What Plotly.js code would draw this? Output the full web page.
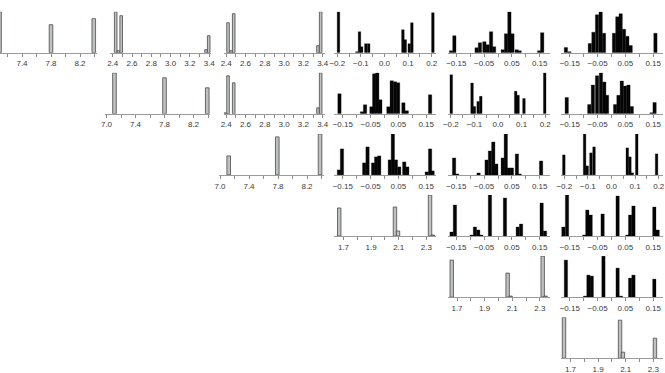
<!DOCTYPE html>
<html>
<head>
<meta charset="utf-8">
<script src="https://cdn.plot.ly/plotly-3.0.1.min.js"></script>
<style>
  html, body { margin: 0; padding: 0; background: #ffffff; overflow: hidden; }
  #chart { width: 665px; height: 373px; }
</style>
</head>
<body>
<div id="chart"></div>
<script>
// ---- Histogram bins (centres) and counts, one pair per panel (row r, column c) ----
// Grey panels: marginal histograms of the three "level" parameters.
const r0c0_bins = [7.09, 7.80, 8.39];
const r0c0_counts = [41, 28, 34];
const r0c1_bins = [2.431, 2.458, 2.488, 3.367, 3.395];
const r0c1_counts = [41, 2, 37, 3, 17];
const r0c2_bins = [2.419, 2.452, 2.478, 3.351, 3.379];
const r0c2_counts = [30, 2, 39, 7, 41];
const r1c1_bins = [7.11, 7.80, 8.39];
const r1c1_counts = [41, 36, 26];
const r1c2_bins = [2.393, 2.419, 2.478, 3.351, 3.379];
const r1c2_counts = [1, 38, 31, 6, 41];
const r2c2_bins = [7.12, 7.79, 8.38];
const r2c2_counts = [19, 38, 41];
const r3c3_bins = [1.669, 2.073, 2.095, 2.327, 2.347];
const r3c3_counts = [28, 29, 5, 41, 1];
const r4c4_bins = [1.662, 2.067, 2.088, 2.321, 2.341];
const r4c4_counts = [37, 24, 1, 41, 1];
const r5c5_bins = [1.653, 2.059, 2.080, 2.312];
const r5c5_counts = [41, 38, 6, 20];

// Black panels: histograms of the coupling coefficients.
const r0c3_bins = [-0.195, -0.117, -0.106, -0.097, -0.079, -0.067, 0.078, 0.088, 0.105, 0.116, 0.205];
const r0c3_counts = [41, 1, 21, 6, 9, 9, 23, 13, 9, 30, 40];
const r0c4_bins = [-0.169, -0.157, -0.077, -0.065, -0.049, -0.037, -0.025, -0.014, 0.017, 0.029, 0.041, 0.052, 0.067, 0.078, 0.148, 0.159];
const r0c4_counts = [2, 17, 5, 10, 11, 8, 21, 6, 3, 19, 41, 19, 3, 2, 2, 20];
const r0c5_bins = [-0.164, -0.151, -0.078, -0.065, -0.052, -0.039, -0.027, 0.009, 0.021, 0.033, 0.045, 0.057, 0.069, 0.158];
const r0c5_counts = [5, 1, 9, 20, 37, 40, 19, 19, 35, 38, 23, 16, 7, 19];
const r1c3_bins = [-0.162, -0.081, -0.070, -0.047, -0.037, -0.026, -0.015, 0.014, 0.026, 0.038, 0.049, 0.068, 0.080, 0.164];
const r1c3_counts = [20, 2, 9, 7, 40, 41, 14, 7, 33, 32, 31, 11, 3, 19];
const r1c4_bins = [-0.198, -0.110, -0.100, -0.084, -0.073, 0.075, 0.085, 0.110, 0.198];
const r1c4_counts = [38, 30, 7, 12, 17, 22, 18, 15, 40];
const r1c5_bins = [-0.161, -0.080, -0.067, -0.052, -0.038, -0.026, -0.016, 0.013, 0.025, 0.037, 0.049, 0.061, 0.073, 0.144, 0.155];
const r1c5_counts = [16, 9, 28, 37, 40, 31, 18, 9, 18, 32, 27, 28, 7, 1, 11];
const r2c3_bins = [-0.164, -0.153, -0.073, -0.061, -0.041, -0.030, -0.019, 0.019, 0.030, 0.041, 0.053, 0.071, 0.082, 0.152, 0.164, 0.173];
const r2c3_counts = [5, 26, 12, 28, 12, 18, 19, 15, 41, 15, 8, 13, 8, 3, 26, 4];
const r2c4_bins = [-0.158, -0.147, -0.070, -0.041, -0.029, -0.017, -0.006, 0.017, 0.028, 0.039, 0.050, 0.068, 0.078, 0.155];
const r2c4_counts = [17, 1, 2, 15, 24, 33, 11, 17, 41, 7, 7, 21, 1, 14];
const r2c5_bins = [-0.202, -0.114, -0.103, -0.087, -0.074, 0.067, 0.078, 0.088, 0.107, 0.191];
const r2c5_counts = [20, 41, 9, 22, 28, 27, 18, 2, 41, 21];
const r3c4_bins = [-0.167, -0.155, -0.095, -0.083, -0.071, -0.060, -0.029, 0.025, 0.071, 0.083, 0.157, 0.169];
const r3c4_counts = [4, 31, 1, 9, 6, 1, 41, 38, 9, 12, 33, 5];
const r3c5_bins = [-0.173, -0.160, -0.098, -0.087, -0.075, -0.032, 0.022, 0.057, 0.067, 0.079, 0.154, 0.166];
const r3c5_counts = [9, 41, 1, 26, 21, 22, 40, 1, 21, 30, 29, 6];
const r4c5_bins = [-0.164, -0.095, -0.083, -0.071, -0.029, 0.022, 0.034, 0.067, 0.079, 0.154];
const r4c5_counts = [37, 1, 22, 21, 41, 29, 1, 19, 22, 18];

// Tick labels for each kind of axis
const ticks_level7 = [7.0, 7.2, 7.4, 7.6, 7.8, 8.0, 8.2, 8.4];
const labels_level7 = ['7.0', '', '7.4', '', '7.8', '', '8.2', ''];
const ticks_level24 = [2.4, 2.5, 2.6, 2.7, 2.8, 2.9, 3.0, 3.1, 3.2, 3.3, 3.4];
const labels_level24 = ['2.4', '', '2.6', '', '2.8', '', '3.0', '', '3.2', '', '3.4'];
const ticks_level17 = [1.7, 1.8, 1.9, 2.0, 2.1, 2.2, 2.3];
const labels_level17 = ['1.7', '', '1.9', '', '2.1', '', '2.3'];
const ticks_coef20 = [-0.2, -0.15, -0.1, -0.05, 0.0, 0.05, 0.1, 0.15, 0.2];
const labels_coef20 = ['\u22120.2', '', '\u22120.1', '', '0.0', '', '0.1', '', '0.2'];
const ticks_coef15 = [-0.15, -0.1, -0.05, 0.0, 0.05, 0.1, 0.15];
const labels_coef15 = ['\u22120.15', '', '\u22120.05', '', '0.05', '', '0.15'];

// ---- Axis kinds: pixel anchor and axis extent (in the 4th-column frame), scale, bar width ----
const KINDS = {
  level7:  { v0: 7.0, p0: 333.5, ppu: 72.5, frame: [332, 437], bw: 0.05,  tv: ticks_level7,  tt: labels_level7,  grey: true },
  level24: { v0: 2.4, p0: 339.7, ppu: 96.5, frame: [337, 438], bw: 0.027, tv: ticks_level24, tt: labels_level24, grey: true },
  level17: { v0: 1.7, p0: 343.5, ppu: 138,  frame: [334, 436], bw: 0.025, tv: ticks_level17, tt: labels_level17, grey: true },
  coef20:  { v0: 0.0, p0: 384.5, ppu: 236,  frame: [334, 436], bw: 0.011, tv: ticks_coef20,  tt: labels_coef20,  grey: false },
  coef15:  { v0: 0.0, p0: 384.5, ppu: 278,  frame: [334, 436], bw: 0.012, tv: ticks_coef15,  tt: labels_coef15,  grey: false }
};

const panels = [
  [0, 0, 'level7',  r0c0_bins, r0c0_counts],
  [0, 1, 'level24', r0c1_bins, r0c1_counts],
  [0, 2, 'level24', r0c2_bins, r0c2_counts],
  [0, 3, 'coef20',  r0c3_bins, r0c3_counts],
  [0, 4, 'coef15',  r0c4_bins, r0c4_counts],
  [0, 5, 'coef15',  r0c5_bins, r0c5_counts],
  [1, 1, 'level7',  r1c1_bins, r1c1_counts],
  [1, 2, 'level24', r1c2_bins, r1c2_counts],
  [1, 3, 'coef15',  r1c3_bins, r1c3_counts],
  [1, 4, 'coef20',  r1c4_bins, r1c4_counts],
  [1, 5, 'coef15',  r1c5_bins, r1c5_counts],
  [2, 2, 'level7',  r2c2_bins, r2c2_counts],
  [2, 3, 'coef15',  r2c3_bins, r2c3_counts],
  [2, 4, 'coef15',  r2c4_bins, r2c4_counts],
  [2, 5, 'coef20',  r2c5_bins, r2c5_counts],
  [3, 3, 'level17', r3c3_bins, r3c3_counts],
  [3, 4, 'coef15',  r3c4_bins, r3c4_counts],
  [3, 5, 'coef15',  r3c5_bins, r3c5_counts],
  [4, 4, 'level17', r4c4_bins, r4c4_counts],
  [4, 5, 'coef15',  r4c5_bins, r4c5_counts],
  [5, 5, 'level17', r5c5_bins, r5c5_counts]
];

// ---- Grid geometry (pixels) ----
const W = 665, H = 373;
const COL_PITCH = 113.5;
const ROW0_BASE = 52.7, ROW_PITCH = 61.1, PANEL_H = 41;

const traces = [];
const layout = {
  width: W, height: H,
  margin: { l: 0, r: 0, t: 0, b: 0, pad: 0 },
  paper_bgcolor: '#ffffff',
  plot_bgcolor: 'rgba(0,0,0,0)',
  showlegend: false,
  bargap: 0
};

panels.forEach(function (p, i) {
  const r = p[0], c = p[1], kind = KINDS[p[2]];
  const k = i + 1;
  const shift = (c - 3) * COL_PITCH;
  let L = kind.frame[0] + shift, R = kind.frame[1] + shift;
  L = Math.max(L, 0); R = Math.min(R, W);
  const anchor = kind.p0 + shift;
  const val = function (px) { return kind.v0 + (px - anchor) / kind.ppu; };
  const base = ROW0_BASE + r * ROW_PITCH;
  const top = base - PANEL_H;
  const ymax = Math.max.apply(null, p[4]);

  traces.push({
    type: 'bar',
    x: p[3], y: p[4],
    width: kind.bw,
    xaxis: 'x' + k, yaxis: 'y' + k,
    marker: kind.grey
      ? { color: '#bec2be', line: { color: '#4a4a4a', width: 0.8 } }
      : { color: '#050505', line: { color: '#050505', width: 0.3 } },
    hoverinfo: 'skip'
  });

  layout['xaxis' + k] = {
    domain: [L / W, R / W],
    range: [val(L), val(R)],
    anchor: 'y' + k,
    showgrid: false, zeroline: false,
    showline: true, linecolor: '#9b9b9b', linewidth: 1,
    ticks: 'outside', ticklen: 3, tickwidth: 1, tickcolor: '#8c8c8c',
    tickmode: 'array', tickvals: kind.tv, ticktext: kind.tt,
    tickangle: 0,
    tickfont: { family: 'Liberation Sans, Arial, sans-serif', size: 8, color: '#3a3a3a' },
    fixedrange: true
  };
  layout['yaxis' + k] = {
    domain: [1 - base / H, 1 - top / H],
    range: [0, ymax],
    anchor: 'x' + k,
    visible: false,
    fixedrange: true
  };
});

Plotly.newPlot('chart', traces, layout, { staticPlot: true, displayModeBar: false });
</script>
</body>
</html>
